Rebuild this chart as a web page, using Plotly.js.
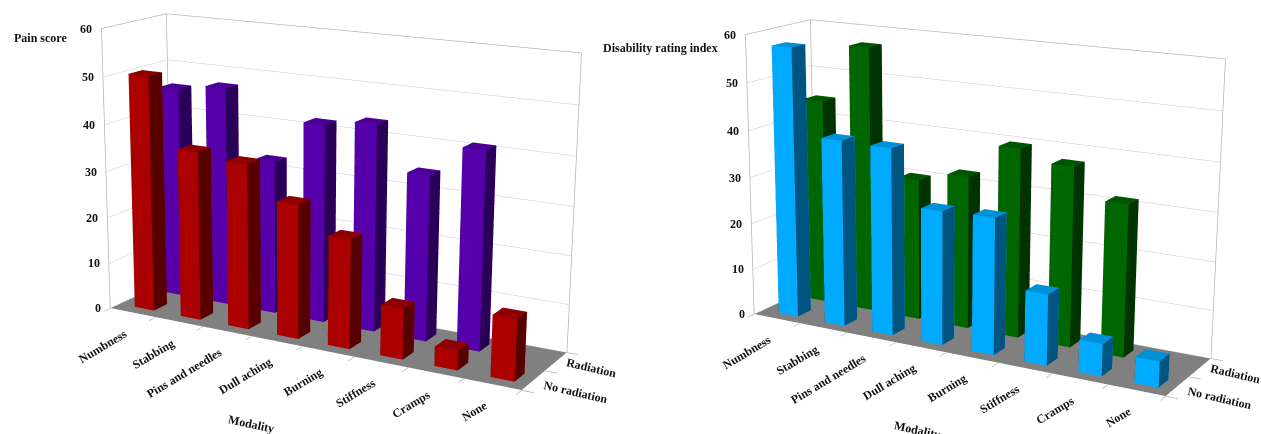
<!DOCTYPE html><html><head><meta charset="utf-8"><script src="https://cdn.plot.ly/plotly-3.0.0.min.js"></script>
<style>html,body{margin:0;padding:0;width:1261px;height:434px;overflow:hidden;background:#fff}#g{position:absolute;left:0;top:-464.5px;width:1288px;height:1369px;filter:blur(.5px)}</style></head><body><div id="g"></div>
<script>
var categories=['Numbness','Stabbing','Pins and needles','Dull aching','Burning','Stiffness','Cramps','None'];
var rows=['No radiation','Radiation'];
var zTicks=[0,10,20,30,40,50,60];
var painNoRad=[50.5,36,35,28.2,22.8,10.5,4,12.5];
var painRad=[45.7,47.1,32.8,42,43.4,34.5,41,0];
var disabNoRad=[57.6,39.6,39.4,28,28.3,14.6,6.6,5.3];
var disabRad=[44.4,56.9,30.2,32.4,39.7,37.5,31.4,0];
var eye={x:2.5658,y:-4.6685,z:1.3948},center={x:-0.0348,y:0,z:-0.1058},up={x:-0.0059,y:0,z:1},aspect={x:1.5726,y:0.3880,z:1};
var W=0.42,D=0.42,xOff=[.55,.5];
function barsMesh(vals,row,cFront,cSide,cTop,scene){
 var x=[],y=[],z=[],I=[],J=[],K=[],fc=[];
 vals.forEach(function(v,c){ if(!(v>0))return;
  var x0=c+xOff[row]-W/2,x1=c+xOff[row]+W/2,y0=row+.5-D/2,y1=row+.5+D/2,b=x.length;
  [[x0,y0,0],[x1,y0,0],[x1,y1,0],[x0,y1,0],[x0,y0,v],[x1,y0,v],[x1,y1,v],[x0,y1,v]].forEach(function(p){x.push(p[0]);y.push(p[1]);z.push(p[2]);});
  [[0,1,5,cFront],[0,5,4,cFront],[1,2,6,cSide],[1,6,5,cSide],[4,5,6,cTop],[4,6,7,cTop],[0,3,7,cSide],[0,7,4,cSide],[3,2,6,cFront],[3,6,7,cFront]].forEach(function(t){I.push(b+t[0]);J.push(b+t[1]);K.push(b+t[2]);fc.push(t[3]);});
 });
 return {type:'mesh3d',scene:scene,x:x,y:y,z:z,i:I,j:J,k:K,facecolor:fc,flatshading:true,hoverinfo:'skip',showscale:false,lighting:{ambient:1,diffuse:0,specular:0,fresnel:0,roughness:1},name:rows[row]};
}
var edgeColor='#b4b4b4';
function edges(scene){return {type:'scatter3d',scene:scene,mode:'lines',x:[0,0,0,8,8],y:[0,0,2,2,2],z:[0,60,60,60,0],line:{color:edgeColor,width:1.5},hoverinfo:'skip',showlegend:false};}
function edges2(scene){return {type:'scatter3d',scene:scene,mode:'lines',x:[0,0],y:[2,2],z:[0,60],line:{color:edgeColor,width:1.5},hoverinfo:'skip',showlegend:false};}
var fontT={family:'Liberation Serif',size:12,color:'#111',weight:'bold'};
var rowShift=[[6,-12],[7,-6]];
function sceneAnn(){var a=[];
 categories.forEach(function(c,i){a.push({x:i+.5,y:0,z:0,text:'<b>'+c+'</b>',showarrow:false,textangle:-31,xanchor:'right',yanchor:'top',xshift:0,yshift:-11,font:fontT});});
 zTicks.forEach(function(v){a.push({x:0,y:0,z:v,text:'<b>'+v+'</b>',showarrow:false,xanchor:'right',yanchor:'middle',xshift:-7,font:fontT});});
 rows.forEach(function(r,i){a.push({x:8,y:i+.5,z:0,text:'<b>'+r+'</b>',showarrow:false,textangle:13,xanchor:'left',yanchor:'middle',xshift:rowShift[i][0],yshift:rowShift[i][1],font:fontT});});
 return a;}
function axis(range,vals,extra){return Object.assign({range:range,autorange:false,showticklabels:false,title:{text:''},showgrid:false,zeroline:false,showline:true,linecolor:'#ffffff',linewidth:1,showspikes:false,tickvals:vals,ticks:'outside',ticklen:10,tickwidth:2,tickcolor:edgeColor,showbackground:false},extra||{});}
function scene(dom,ann){return {domain:dom,aspectmode:'manual',aspectratio:aspect,dragmode:'orbit',bgcolor:'#fff',
 camera:{eye:eye,center:center,up:up,projection:{type:'perspective'}},
 xaxis:axis([0,8],[0,1,2,3,4,5,6,7,8]),yaxis:axis([0,2],[0,1,2]),
 zaxis:axis([0,60],zTicks,{showgrid:true,gridcolor:'#c8c8c8',gridwidth:1,showbackground:true,backgroundcolor:'#808080',ticks:'',showline:false}),annotations:ann};}
var TOP=-464.5,H=1369,WD=1288,d=6/1369;
function px(X){return X/WD;} function py(Y){return 1-(Y-TOP)/H;}
function lab(text,X,Y,ang){return {xref:'paper',yref:'paper',x:px(X),y:py(Y),text:'<b>'+text+'</b>',showarrow:false,textangle:ang||0,font:fontT,xanchor:'center',yanchor:'middle'};}
var data=[barsMesh(painRad,1,'#5500aa','#2a0058','#4a0096','scene'),barsMesh(painNoRad,0,'#aa0000','#570000','#8e0000','scene'),edges('scene'),edges2('scene'),
 barsMesh(disabRad,1,'#006600','#003300','#005500','scene2'),barsMesh(disabNoRad,0,'#00aaff','#005580','#0090d8','scene2'),edges('scene2'),edges2('scene2')];
var layout={width:WD,height:H,margin:{l:0,r:0,t:0,b:0},showlegend:false,paper_bgcolor:'#fff',
 scene:scene({x:[0,.5],y:[d,1]},sceneAnn()),scene2:scene({x:[.5,1],y:[0,1-d]},sceneAnn()),
 annotations:[lab('Pain score',40,37),lab('Disability rating index',660,48),lab('Modality',251,423,12),lab('Modality',917,429,12)]};
Plotly.newPlot('g',data,layout,{displayModeBar:false});
</script></body></html>
